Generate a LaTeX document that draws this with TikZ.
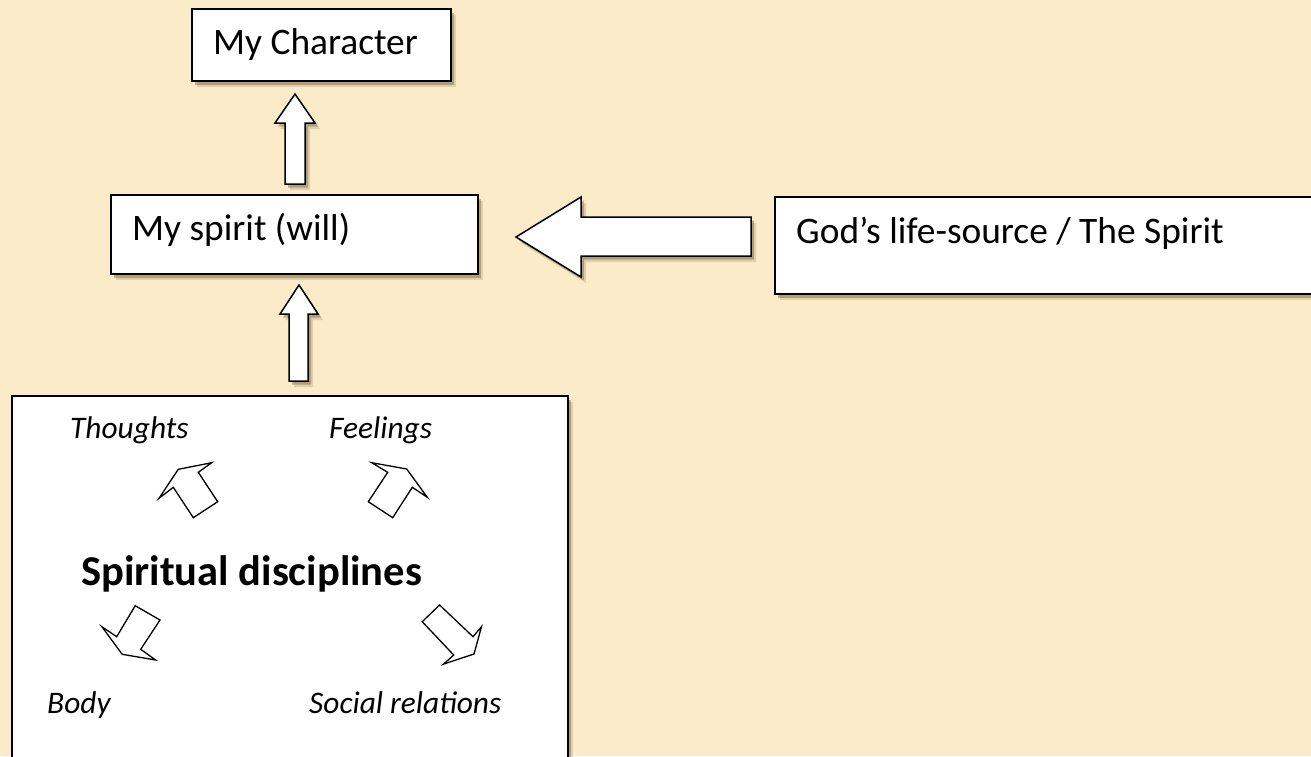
\documentclass[tikz,border=0pt]{standalone}
\usepackage{fontspec}
\setmainfont{Carlito}
\definecolor{bg}{RGB}{251,235,200}
\definecolor{shadowc}{RGB}{95,80,55}
\tikzset{
  softshadow/.style={
    preaction={fill=shadowc, opacity=0.18, transform canvas={shift={(5pt,-6pt)}}},
    preaction={fill=shadowc, opacity=0.38, transform canvas={shift={(3pt,-3.5pt)}}}},
  boxstyle/.style={draw=black, line width=1.6pt, fill=white, softshadow,
    anchor=north west, inner sep=0pt, outer sep=0pt},
  blockarrow/.style={draw=black, line width=1.5pt, fill=white, line join=miter, softshadow},
  smallarrow/.style={draw=black, line width=1.3pt, fill=white, line join=miter},
  lbl/.style={font=\fontsize{37.4}{42}\selectfont, anchor=base west, inner sep=0pt},
  itl/.style={font=\fontsize{31.4}{36}\selectfont\itshape, anchor=base west, inner sep=0pt},
  bld/.style={font=\fontsize{42.5}{48}\selectfont\bfseries, anchor=base west, inner sep=0pt},
}
\begin{document}
\begin{tikzpicture}[x=1pt,y=-1pt]
\useasboundingbox (0,0) rectangle (1311,756);
\fill[bg] (0,0) rectangle (1311,756);
\clip (0,0) rectangle (1311,756);

% boxes
\node[boxstyle, minimum width=259pt, minimum height=72pt] (char) at (192,9) {};
\node[boxstyle, minimum width=367pt, minimum height=79pt] (spirit) at (111,195) {};
\node[boxstyle, minimum width=560pt, minimum height=97pt] (god) at (775,197) {};
\node[boxstyle, minimum width=556pt, minimum height=380pt] (disc) at (12,396) {};

% box texts
\node[lbl] (chartext) at (213,54) {My Character};
\node[lbl] (spirittext) at (132,240) {My spirit (will)};
\node[lbl] (godtext) at (796,243) {God’s life-source / The Spirit};

% block arrows
\filldraw[blockarrow] (295,94) -- (315,123) -- (305,123) -- (305,184) -- (285,184) -- (285,123) -- (275,123) -- cycle;
\filldraw[blockarrow] (299,285) -- (318,314) -- (308,314) -- (308,381) -- (289,381) -- (289,314) -- (280,314) -- cycle;
\filldraw[blockarrow] (516,237) -- (581,197) -- (581,217) -- (751,217) -- (751,256) -- (581,256) -- (581,277) -- cycle;

% inner texts
\node[itl] (thoughts) at (70,438) {Thoughts};
\node[itl] (feelings) at (329,438) {Feelings};
\node[bld] (sd) at (81,585) {Spiritual disciplines};
\node[itl] (body) at (47,713) {Body};
\node[itl] (social) at (309,713) {Social relations};

% small arrows
\filldraw[smallarrow] (211.7,462.7) -- (178.3,469.3) -- (159,498.3) -- (173.3,487.3) -- (193.3,517.7) -- (217.7,501.7) -- (198.3,472.3) -- cycle;
\filldraw[smallarrow] (371.7,462.7) -- (406.7,469) -- (427.3,497.3) -- (412.3,487.3) -- (392.7,517.7) -- (368.3,501.7) -- (387.7,472.3) -- cycle;
\filldraw[smallarrow] (135.2,605.7) -- (160,620) -- (140.7,649.3) -- (155.6,660) -- (122.2,654.3) -- (101.9,626.7) -- (116.7,636.7) -- cycle;
\filldraw[smallarrow] (439.6,605) -- (473,636.7) -- (481.5,626.7) -- (474,654) -- (443.7,664) -- (453.7,655) -- (422.2,621.7) -- cycle;
\end{tikzpicture}
\end{document}
